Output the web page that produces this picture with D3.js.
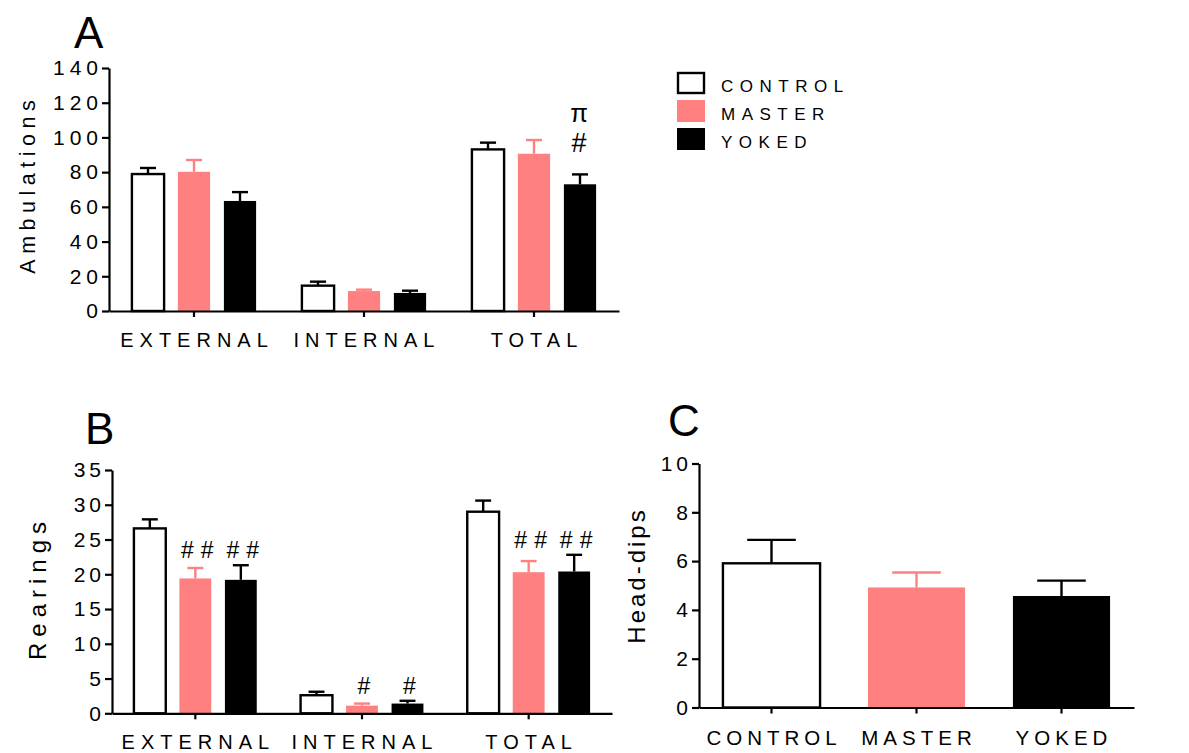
<!DOCTYPE html>
<html>
<head>
<meta charset="utf-8">
<script src="https://cdn.jsdelivr.net/npm/d3@7"></script>
<style>
  html, body { margin: 0; padding: 0; background: #fff; }
  svg { display: block; font-family: "Liberation Sans", Arial, Helvetica, sans-serif; }
</style>
</head>
<body>
<svg id="chart" width="1189" height="753"></svg>
<script>
// ---------------- DATA ----------------
const groupsAB = ["EXTERNAL", "INTERNAL", "TOTAL"];
const seriesNames = ["CONTROL", "MASTER", "YOKED"];

// Panel A: Ambulations (mean, SEM)
const ambControl = [78.9, 14.6, 93.1];
const ambMaster  = [80.2, 11.5, 90.6];
const ambYoked   = [63.4, 10.4, 73.0];
const ambControlErr = [3.5, 2.3, 3.9];
const ambMasterErr  = [6.8, 0.8, 7.9];
const ambYokedErr   = [5.1, 1.3, 5.7];
const ambTicks = [0, 20, 40, 60, 80, 100, 120, 140];

// Panel B: Rearings (mean, SEM)
const rearControl = [26.6, 2.6, 29.0];
const rearMaster  = [19.4, 1.1, 20.3];
const rearYoked   = [19.2, 1.4, 20.4];
const rearControlErr = [1.3, 0.5, 1.6];
const rearMasterErr  = [1.5, 0.3, 1.6];
const rearYokedErr   = [2.1, 0.4, 2.4];
const rearTicks = [0, 5, 10, 15, 20, 25, 30, 35];

// Panel C: Head-dips (mean, SEM)
const headMean = [5.91, 4.92, 4.57];
const headErr  = [0.96, 0.61, 0.63];
const headTicks = [0, 2, 4, 6, 8, 10];

// Significance marks
const annotA = [
  { group: "TOTAL", series: "YOKED", text: "#", level: 0 },
  { group: "TOTAL", series: "YOKED", text: "\u03C0", level: 1 }
];
const annotB = [
  { group: "EXTERNAL", series: "MASTER", text: "##", level: 0 },
  { group: "EXTERNAL", series: "YOKED",  text: "##", level: 0 },
  { group: "INTERNAL", series: "MASTER", text: "#",  level: 0 },
  { group: "INTERNAL", series: "YOKED",  text: "#",  level: 0 },
  { group: "TOTAL",    series: "MASTER", text: "##", level: 0 },
  { group: "TOTAL",    series: "YOKED",  text: "##", level: 0 }
];

// ---------------- STYLE ----------------
const colors = { CONTROL: "#ffffff", MASTER: "#ff8080", YOKED: "#000000" };
const errColors = { CONTROL: "#000000", MASTER: "#ff8080", YOKED: "#000000" };
const FONT = '"Liberation Sans", Arial, Helvetica, sans-serif';

const svg = d3.select("#chart");

function buildRows(groups, means, errs) {
  const rows = [];
  groups.forEach((g, gi) => {
    seriesNames.forEach((s, si) => {
      rows.push({ group: g, series: s, value: means[si][gi], err: errs[si][gi] });
    });
  });
  return rows;
}

function drawGroupedPanel(cfg) {
  const g = svg.append("g");
  const x0 = d3.scaleBand().domain(cfg.groups).range(cfg.xRange).paddingInner(0).paddingOuter(0);
  const half = cfg.innerStep * 1.5;
  const x1 = d3.scaleBand().domain(seriesNames).range([-half, half])
    .paddingInner(cfg.innerPad).paddingOuter(cfg.innerPad / 2);
  const y = d3.scaleLinear().domain(cfg.yDomain).range(cfg.yRange);

  const cx = d => x0(d.group) + x0.bandwidth() / 2 + x1(d.series) + x1.bandwidth() / 2;
  const bw = x1.bandwidth();

  // bars
  g.selectAll("rect.bar").data(cfg.rows).join("rect")
    .attr("class", "bar")
    .attr("x", d => cx(d) - bw / 2)
    .attr("width", bw)
    .attr("y", d => y(d.value))
    .attr("height", d => y(0) - y(d.value))
    .attr("fill", d => colors[d.series])
    .attr("stroke", d => d.series === "CONTROL" ? "#000" : "none")
    .attr("stroke-width", 2.4);

  // error bars (upper only)
  const eb = g.selectAll("g.err").data(cfg.rows).join("g").attr("class", "err")
    .attr("stroke", d => errColors[d.series]).attr("stroke-width", 2.4);
  eb.append("line")
    .attr("x1", d => cx(d)).attr("x2", d => cx(d))
    .attr("y1", d => y(d.value)).attr("y2", d => y(d.value + d.err));
  eb.append("line")
    .attr("x1", d => cx(d) - bw * cfg.capFrac / 2).attr("x2", d => cx(d) + bw * cfg.capFrac / 2)
    .attr("y1", d => y(d.value + d.err)).attr("y2", d => y(d.value + d.err));

  // y axis
  const ya = g.append("g").attr("transform", `translate(${cfg.xRange[0]},0)`)
    .call(d3.axisLeft(y).tickValues(cfg.yTicks).tickSizeInner(7).tickSizeOuter(0).tickPadding(4).tickFormat(d3.format("d")));
  ya.select(".domain").attr("stroke-width", 2.2);
  ya.selectAll(".tick line").attr("stroke-width", 2.2);
  ya.selectAll(".tick text").attr("font-family", FONT).attr("font-size", cfg.tickFont)
    .attr("letter-spacing", cfg.tickLs + "px").attr("dx", cfg.tickLs).attr("fill", "#000");

  // x axis
  const xa = g.append("g").attr("transform", `translate(0,${y(0)})`)
    .call(d3.axisBottom(x0).tickSizeInner(6).tickSizeOuter(0).tickPadding(0));
  xa.select(".domain").attr("stroke-width", 2.2);
  xa.selectAll(".tick line").attr("stroke-width", 2.2);
  xa.selectAll(".tick text").attr("font-family", FONT).attr("font-size", cfg.catFont)
    .attr("letter-spacing", cfg.catLs + "px").attr("dx", cfg.catLs / 2)
    .attr("y", cfg.catBaseline).attr("dy", 0).attr("fill", "#000");

  // y title
  g.append("text")
    .attr("transform", `translate(${cfg.yTitlePos[0]},${cfg.yTitlePos[1]}) rotate(-90)`)
    .attr("text-anchor", "middle").attr("font-family", FONT)
    .attr("font-size", cfg.yTitleFont).attr("letter-spacing", cfg.yTitleLs + "px")
    .attr("dx", cfg.yTitleLs / 2)
    .text(cfg.yTitle);

  // panel letter
  g.append("text").attr("x", cfg.letterPos[0]).attr("y", cfg.letterPos[1])
    .attr("font-family", FONT).attr("font-size", 44).text(cfg.letter);

  // annotations: placed above the highest annotated bar of the group
  if (cfg.annot) {
    const rowOf = a => cfg.rows.find(r => r.group === a.group && r.series === a.series);
    const groupTop = {};
    cfg.annot.forEach(a => {
      const r = rowOf(a);
      groupTop[a.group] = Math.max(groupTop[a.group] || 0, r.value + r.err);
    });
    g.selectAll("text.annot").data(cfg.annot).join("text")
      .attr("class", "annot")
      .attr("x", d => cx(d) + cfg.annotLs / 2 + cfg.annotDx)
      .attr("y", d => y(groupTop[d.group]) - cfg.annotGap - d.level * cfg.annotLevelGap)
      .attr("text-anchor", "middle").attr("font-family", FONT)
      .attr("font-size", d => d.level ? cfg.annotFont * 0.95 : cfg.annotFont)
      .attr("letter-spacing", cfg.annotLs + "px")
      .text(d => d.text);
  }
}

// Panel A
drawGroupedPanel({
  groups: groupsAB,
  rows: buildRows(groupsAB, [ambControl, ambMaster, ambYoked], [ambControlErr, ambMasterErr, ambYokedErr]),
  xRange: [109, 619], innerStep: 46, innerPad: 0.3, capFrac: 0.5,
  yDomain: [0, 140], yRange: [311, 68], yTicks: ambTicks,
  tickFont: 21, tickLs: 5, catFont: 20, catLs: 6, catBaseline: 36,
  yTitle: "Ambulations", yTitlePos: [35, 187], yTitleFont: 21.5, yTitleLs: 5.5,
  letter: "A", letterPos: [74, 48],
  annot: annotA, annotFont: 27, annotLs: 0, annotDx: -1, annotGap: 22, annotLevelGap: 30
});

// Panel B
drawGroupedPanel({
  groups: groupsAB,
  rows: buildRows(groupsAB, [rearControl, rearMaster, rearYoked], [rearControlErr, rearMasterErr, rearYokedErr]),
  xRange: [112, 612], innerStep: 45.5, innerPad: 0.3, capFrac: 0.5,
  yDomain: [0, 35], yRange: [713.3, 470], yTicks: rearTicks,
  tickFont: 21, tickLs: 4, catFont: 20, catLs: 6, catBaseline: 36,
  yTitle: "Rearings", yTitlePos: [46, 591], yTitleFont: 24, yTitleLs: 6,
  letter: "B", letterPos: [85, 444],
  annot: annotB, annotFont: 23, annotLs: 7, annotDx: 2, annotGap: 7, annotLevelGap: 0
});

// Panel C
(function () {
  const g = svg.append("g");
  const x = d3.scaleBand().domain(seriesNames).range([699, 1134]).paddingInner(0.33).paddingOuter(0.165);
  const y = d3.scaleLinear().domain([0, 10]).range([707.5, 463.5]);
  const rows = seriesNames.map((s, i) => ({ series: s, value: headMean[i], err: headErr[i] }));
  const bw = x.bandwidth();
  const cx = d => x(d.series) + bw / 2;

  g.selectAll("rect").data(rows).join("rect")
    .attr("x", d => x(d.series)).attr("width", bw)
    .attr("y", d => y(d.value)).attr("height", d => y(0) - y(d.value))
    .attr("fill", d => colors[d.series])
    .attr("stroke", d => d.series === "CONTROL" ? "#000" : "none")
    .attr("stroke-width", 2.4);

  const eb = g.selectAll("g.err").data(rows).join("g").attr("class", "err")
    .attr("stroke", d => errColors[d.series]).attr("stroke-width", 2.4);
  eb.append("line").attr("x1", cx).attr("x2", cx)
    .attr("y1", d => y(d.value)).attr("y2", d => y(d.value + d.err));
  eb.append("line").attr("x1", d => cx(d) - bw * 0.25).attr("x2", d => cx(d) + bw * 0.25)
    .attr("y1", d => y(d.value + d.err)).attr("y2", d => y(d.value + d.err));

  const ya = g.append("g").attr("transform", "translate(699,0)")
    .call(d3.axisLeft(y).tickValues(headTicks).tickSizeInner(7).tickSizeOuter(0).tickPadding(4).tickFormat(d3.format("d")));
  ya.select(".domain").attr("stroke-width", 2.2);
  ya.selectAll(".tick line").attr("stroke-width", 2.2);
  ya.selectAll(".tick text").attr("font-family", FONT).attr("font-size", 21)
    .attr("letter-spacing", "4px").attr("dx", 4).attr("fill", "#000");

  const xa = g.append("g").attr("transform", `translate(0,${y(0)})`)
    .call(d3.axisBottom(x).tickSizeInner(6).tickSizeOuter(0).tickPadding(0));
  xa.select(".domain").attr("stroke-width", 2.2);
  xa.selectAll(".tick line").attr("stroke-width", 2.2);
  xa.selectAll(".tick text").attr("font-family", FONT).attr("font-size", 20.5)
    .attr("letter-spacing", "5px").attr("dx", 2.5).attr("y", 37.5).attr("dy", 0).attr("fill", "#000");

  g.append("text")
    .attr("transform", "translate(645,577) rotate(-90)")
    .attr("text-anchor", "middle").attr("font-family", FONT)
    .attr("font-size", 24).attr("letter-spacing", "3px").attr("dx", 1.5)
    .text("Head-dips");

  g.append("text").attr("x", 668).attr("y", 436)
    .attr("font-family", FONT).attr("font-size", 44).text("C");
})();

// Legend
(function () {
  const lg = svg.append("g");
  const rowY = d3.scalePoint().domain(seriesNames).range([72, 128]);
  const items = lg.selectAll("g").data(seriesNames).join("g")
    .attr("transform", d => `translate(677,${rowY(d)})`);
  items.append("rect")
    .attr("x", d => d === "CONTROL" ? 1 : 0).attr("y", d => d === "CONTROL" ? 1 : 0)
    .attr("width", d => d === "CONTROL" ? 26 : 28).attr("height", d => d === "CONTROL" ? 20 : 22)
    .attr("fill", d => colors[d])
    .attr("stroke", d => d === "CONTROL" ? "#000" : "none").attr("stroke-width", 2.4);
  items.append("text").attr("x", 44).attr("y", 20)
    .attr("font-family", FONT).attr("font-size", 17).attr("letter-spacing", "6.5px")
    .text(d => d);
})();
</script>
</body>
</html>
